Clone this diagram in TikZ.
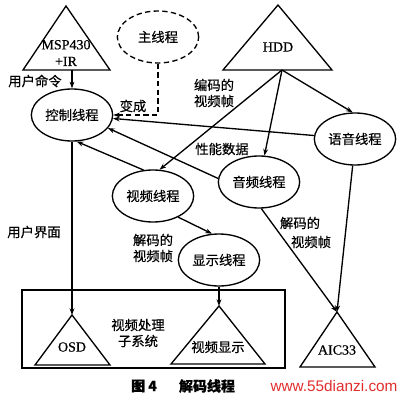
\documentclass[tikz,border=0pt]{standalone}
\usepackage{fontspec}
\setmainfont{Liberation Serif}[FakeBold=0.6]
\newfontfamily\cjk{Noto Sans CJK SC}[FakeBold=0.6]
\newfontfamily\wmfont{Liberation Sans}
\usetikzlibrary{shapes.geometric,arrows.meta}
\definecolor{wmred}{RGB}{225,45,45}
\begin{document}
\begin{tikzpicture}[x=0.75pt,y=-0.75pt,line width=1pt,
        thread/.style={ellipse,draw,inner sep=0pt,minimum width=61pt,minimum height=39pt,font=\cjk\fontsize{10}{12}\selectfont},
        lbl/.style={font=\cjk\fontsize{10}{12}\selectfont,align=center,inner sep=0pt},
        dev/.style={font=\fontsize{10.5}{12.5}\selectfont,align=center,inner sep=0pt},
        arr/.style={-{Stealth[length=5pt,width=3.6pt]}}]
                \useasboundingbox (0,0) rectangle (404,407);
                \draw (66,6) -- (110,70) -- (23,70) -- cycle;
                \node[dev] (msp) at (66,53) {MSP430\\+IR};
                \coordinate (msp-b) at (72,70);
                \draw (278,5) -- (332,70) -- (223,70) -- cycle;
                \node[dev] (hdd) at (278,47) {HDD};
                \coordinate (hdd-b) at (282,70);
                \draw (22,290) rectangle (285,368);
                \draw (72,315) coordinate (osd-t) -- (110,365) -- (35,365) -- cycle;
                \node[dev] (osd) at (72,347) {OSD};
                \draw (219,306) coordinate (vd-t) -- (265,364) -- (171,364) -- cycle;
                \node[lbl] (vd) at (218,347) {视频显示};
                \draw (337,312) coordinate (aic-t) -- (375,367) -- (300,367) -- cycle;
                \node[dev] (aic) at (337,350) {AIC33};
                \node[thread] (ctrl) at (72,115) {控制线程};
                \node[thread,dash pattern=on 4pt off 2.5pt] (main) at (158,37) {主线程};
                \node[thread] (voice) at (355,139) {语音线程};
                \node[thread] (video) at (153,196) {视频线程};
                \node[thread] (audio) at (259,182) {音频线程};
                \node[thread] (disp) at (219,260) {显示线程};
                \draw[arr] (msp-b) -- (ctrl);
                \draw[arr,dash pattern=on 4pt off 2.5pt] (main) |- (ctrl);
                \draw[arr] (voice) -- (ctrl);
                \draw[arr] (audio.175) -- (ctrl.-20);
                \draw[arr] (video.110) -- (ctrl.-80);
                \draw[arr] (hdd-b) -- (video.76);
                \draw[arr] (hdd-b) -- (audio);
                \draw[arr] (hdd-b) -- (voice.95);
                \draw[arr] (video.-40) -- (disp.105);
                \draw[arr] (disp) -- (vd-t);
                \draw[arr] (ctrl) -- (osd-t);
                \draw[arr] (audio.-85) -- (aic-t);
                \draw[arr] (voice.-95) -- (aic-t);
                \node[lbl] (cmd) at (35,81) {用户命令};
                \node[lbl] (become) at (133,106) {变成};
                \node[lbl] (enc) at (214,93) {编码的\\视频帧};
                \node[lbl] (perf) at (222,149) {性能数据};
                \node[lbl] (ui) at (34,232) {用户界面};
                \node[lbl] (dec1) at (153,248) {解码的\\视频帧};
                \node[lbl] (dec2a) at (300,223) {解码的};
                \node[lbl] (dec2b) at (311,242) {视频帧};
                \node[lbl] (sub) at (138,333) {视频处理\\子系统};
                \node[lbl,font=\cjk\bfseries\fontsize{10.5}{12}\selectfont] (fig) at (144,386) {图 4};
                \node[lbl,font=\cjk\bfseries\fontsize{10.5}{12}\selectfont] (cap) at (207,386) {解码线程};
                \node[text=wmred,font=\wmfont\fontsize{11.5}{13}\selectfont,inner sep=0pt] (wm) at (334,386) {www.55dianzi.com};
            \end{tikzpicture}
\end{document}
